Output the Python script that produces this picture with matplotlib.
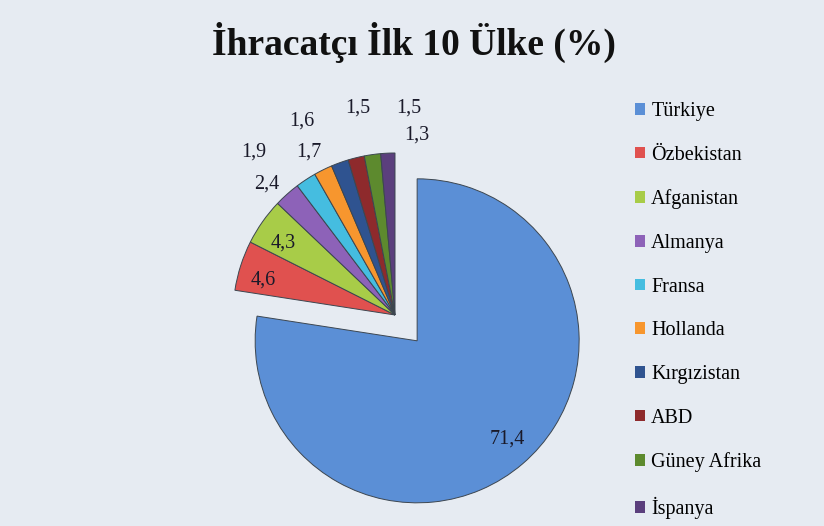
"""
İhracatçı ilk 10 ülke - pasta grafiği
"""

import numpy as np
import matplotlib
matplotlib.use("Agg")
import matplotlib.pyplot as plt
from matplotlib.patches import Patch

# Veriler (%)
countries = ["Türkiye", "Özbekistan", "Afganistan", "Almanya", "Fransa",
             "Hollanda", "Kırgızistan", "ABD", "Güney Afrika", "İspanya"]
shares = [71.4, 4.6, 4.3, 2.4, 1.9, 1.7, 1.6, 1.5, 1.5, 1.3]
colors = ["#5b8fd6", "#e0514f", "#a8cc48", "#8d62b8", "#45bde0",
          "#f7962e", "#2f5390", "#8e2a2c", "#5d8a2e", "#5b3f7d"]

title = "İhracatçı İlk 10 Ülke (%)"

BG = "#e6ebf2"
SERIF = ["Liberation Serif", "DejaVu Serif"]

fig = plt.figure(figsize=(8.24, 5.26), dpi=100, facecolor=BG)

# square axes: centre of the small slices at (395, 315) px, radius 162 px
lim = 1.3
side = 2 * lim * 162
ax = fig.add_axes([(395 - side / 2) / 824, (526 - 315 - side / 2) / 526,
                   side / 824, side / 526])
ax.set_facecolor(BG)

explode = [0.21] + [0] * (len(shares) - 1)
wedges, _ = ax.pie(shares, colors=colors, startangle=90, counterclock=False,
                   explode=explode, radius=1.0,
                   wedgeprops=dict(edgecolor="#3c4650", linewidth=0.7))
# pie() resets the limits, so set them afterwards
ax.set_xlim(-lim, lim)
ax.set_ylim(-lim, lim)
ax.axis("off")

# label placement (radius, angle nudge in degrees) - matches the hand-moved labels
label_pos = [(0.82, 2), (0.84, 3), (0.82, 2.4), (1.13, 2.5), (1.33, 7.5),
             (1.14, 1.5), (1.33, 5.8), (1.30, -3.6), (1.28, -11.7), (1.12, -9.5)]

for w, val, (r, nudge) in zip(wedges, shares, label_pos):
    ang = np.deg2rad((w.theta1 + w.theta2) / 2 + nudge)
    cx, cy = w.center
    ax.text(cx + r * np.cos(ang), cy + r * np.sin(ang),
            f"{val:.1f}".replace(".", ","), ha="center", va="center",
            fontsize=14.5, family=SERIF, color="#1a1a2a")

fig.text(414 / 824, 1 - 42 / 526, title, ha="center", va="center",
         fontsize=27, fontweight="bold", family=SERIF, color="#111111")

handles = [Patch(facecolor=c, edgecolor="none") for c in colors]
leg = fig.legend(handles, countries, loc="upper left",
                 bbox_to_anchor=(617 / 824, 1 - 84 / 526),
                 frameon=False, prop=dict(family=SERIF, size=14.5),
                 handlelength=0.5, handleheight=0.5, handletextpad=0.3,
                 labelspacing=1.225)

fig.savefig("out.png", dpi=100, facecolor=BG)
